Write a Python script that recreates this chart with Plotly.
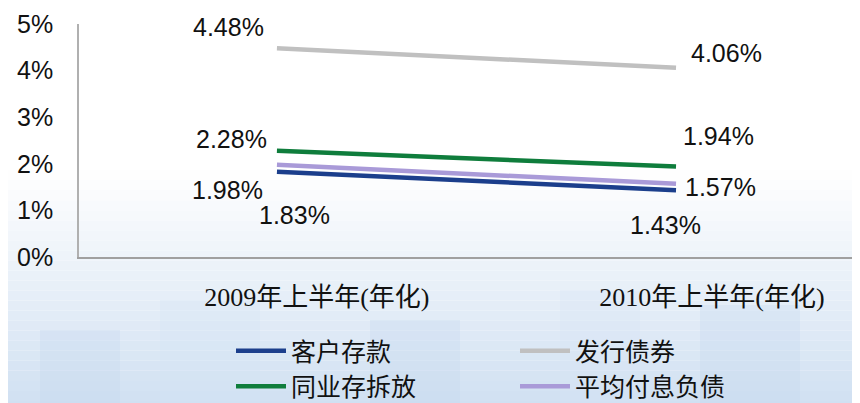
import plotly.graph_objects as go

# data
periods = ['2009年上半年(年化)', '2010年上半年(年化)']
series_names = ['客户存款', '发行债券', '同业存拆放', '平均付息负债']
deposits = [1.83, 1.43]
bonds = [4.48, 4.06]
interbank = [2.28, 1.94]
avg_liab = [1.98, 1.57]
y_ticks = [0, 1, 2, 3, 4, 5]

colors = ['#1c3f8c', '#c0c0c0', '#0f7d3c', '#a99ad8']
values = [deposits, bonds, interbank, avg_liab]
x = [0, 1]

fig = go.Figure()
for name, vals, c in zip(series_names, values, colors):
    fig.add_trace(go.Scatter(x=x, y=vals, name=name, mode='lines',
                             line=dict(color=c, width=4.5)))

# value labels (offsets in px from each point)
label_offsets = {
    '客户存款': [(18, -43), (-11, -35)],
    '发行债券': [(-48, 21), (50, 15)],
    '同业存拆放': [(-45, 12), (42, 31)],
    '平均付息负债': [(-49, -25), (44, -3)],
}
for name, vals in zip(series_names, values):
    for i, v in enumerate(vals):
        dx, dy = label_offsets[name][i]
        fig.add_annotation(x=x[i], y=v, text=f'{v:.2f}%', showarrow=False,
                           xshift=dx, yshift=dy,
                           font=dict(family='Liberation Sans, Arial', size=25, color='#111'))

# page body has an 8px margin, so the figure is laid out 8px up/left
OFF = 8
PT, PB = 24 - OFF, 257 - OFF  # plot top / bottom in figure px
PH = PB - PT
PL = 79 - OFF
PW = 781


def py(v):
    return (PB - (v - OFF)) / PH


def px(v):
    return ((v - OFF) - PL) / PW


# background: soft blue fade towards the bottom
shapes = []
n = 24
top, bottom = 170, 411
for k in range(n):
    y0 = top + (bottom - top) * k / n
    y1 = top + (bottom - top) * (k + 1) / n
    t = (k + 0.5) / n
    r = int(255 - (255 - 208) * t)
    g = int(255 - (255 - 224) * t)
    b = int(255 - (255 - 242) * t)
    shapes.append(dict(type='rect', xref='paper', yref='paper', layer='below',
                       x0=px(0), x1=px(870), y0=py(y1), y1=py(y0),
                       fillcolor=f'rgb({r},{g},{b})', line=dict(width=0)))
# faint building blocks
blocks = [(40, 120, 330, '#c4d8ee'), (160, 260, 300, '#d3e3f4'), (370, 460, 320, '#c2d6ee'),
          (560, 640, 290, '#d6e5f5'), (700, 800, 305, '#c4d8ef')]
for bx0, bx1, by0, c in blocks:
    shapes.append(dict(type='rect', xref='paper', yref='paper', layer='below',
                       x0=px(bx0), x1=px(bx1), y0=py(411), y1=py(by0),
                       fillcolor=c, opacity=0.3, line=dict(width=0)))

fig.update_layout(
    width=860, height=403,
    margin=dict(l=PL, r=860 - PL - PW, t=PT, b=403 - PB),
    paper_bgcolor='white', plot_bgcolor='rgba(0,0,0,0)',
    shapes=shapes,
    showlegend=True,
    legend=dict(orientation='h', xref='container', yref='container',
                x=(231 - OFF) / 860, xanchor='left', y=1 - (328 - OFF) / 403, yanchor='top',
                entrywidth=219, entrywidthmode='pixels', itemwidth=50,
                bgcolor='rgba(0,0,0,0)',
                font=dict(family='Noto Sans CJK SC', size=25, color='#111')),
    xaxis=dict(range=[-0.496, 1.461], tickvals=[0.1, 1.09], ticktext=periods,
               showgrid=False, zeroline=False, showline=True, linecolor='#a0a0a0', linewidth=2,
               ticks='', ticklabelstandoff=16, automargin=False,
               tickfont=dict(family='Liberation Serif, Noto Sans CJK SC', size=26, color='#111')),
    yaxis=dict(range=[0, 5], tickvals=y_ticks, ticktext=[f'{t}%' for t in y_ticks],
               showgrid=False, zeroline=False, showline=True, linecolor='#b0b0b0', linewidth=1.5,
               ticks='', ticklabelstandoff=19, automargin=False,
               tickfont=dict(family='Liberation Sans, Arial', size=25, color='#111')),
)

fig.write_html('out.html')
